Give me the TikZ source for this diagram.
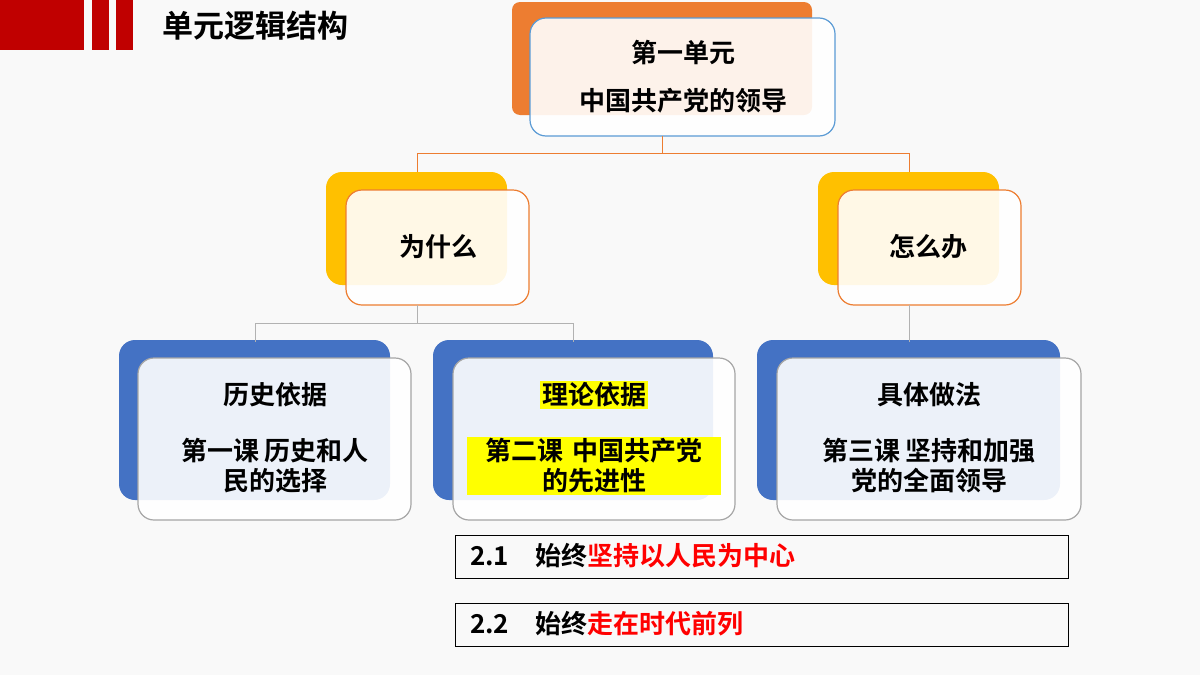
\documentclass[tikz,border=0pt]{standalone}
\usepackage{fontspec}
\setmainfont{Noto Sans CJK SC}[BoldFont={* Bold}]
\usetikzlibrary{positioning}
\definecolor{bg}{HTML}{F9F9F9}
\definecolor{barred}{HTML}{C00000}
\definecolor{orback}{HTML}{ED7D31}
\definecolor{yeback}{HTML}{FFC000}
\definecolor{blback}{HTML}{4472C4}
\definecolor{frblue}{HTML}{5B9BD5}
\definecolor{hl}{HTML}{FFFF00}
\definecolor{txred}{HTML}{FF0000}
\tikzset{
	back/.style={rounded corners=8pt,draw=none},
	front/.style={rounded corners=8pt,fill=white,fill opacity=0.9,line width=0.6pt},
	link/.style={line width=0.5pt},
	label/.style={font=\bfseries\fontsize{13}{15}\selectfont,align=center},
	line/.style={draw=black,line width=0.5pt,minimum width=306.5pt,minimum height=21.5pt,anchor=north west,inner sep=0pt}
}
\begin{document}
\begin{tikzpicture}[x=0.5pt,y=-0.5pt]
\fill[bg] (0,0) rectangle (1200,675);
\useasboundingbox (0,0) rectangle (1200,675);
% title bar
\fill[barred] (0,0) rectangle (84,50);
\fill[barred] (92,0) rectangle (109,50);
\fill[barred] (116,0) rectangle (133,50);
\node[font=\bfseries\fontsize{15.5}{17}\selectfont,anchor=west] (title) at (155,26) {单元逻辑结构};
% unit box
\fill[orback,rounded corners=4pt] (512,2) rectangle (812,115);
\draw[front,draw=frblue] (530,18) rectangle (835,136);
\node[label] (unit) at (683,77) {第一单元\\[9pt]中国共产党的领导};
\coordinate (unitb) at (662,136);
% why / how
\fill[back,yeback] (326,172) rectangle (507,285);
\draw[front,draw=orback] (346,190) rectangle (529,305);
\node[label] (why) at (438,247) {为什么};
\fill[back,yeback] (818,172) rectangle (999,285);
\draw[front,draw=orback] (838,190) rectangle (1021,305);
\node[label] (how) at (928,247) {怎么办};
\coordinate (whyt) at (417,190);
\coordinate (howt) at (909,190);
\draw[link,orback] (unitb) |- (417,153) -- (whyt |- 0,172);
\draw[link,orback] (unitb) |- (909,153) -- (howt |- 0,172);
% lessons
\fill[back,blback] (119,340) rectangle (390,500);
\draw[front,draw=gray!70] (138,358) rectangle (411,520);
\fill[back,blback] (433,340) rectangle (713,500);
\draw[front,draw=gray!70] (453,358) rectangle (735,520);
\fill[back,blback] (757,340) rectangle (1060,500);
\draw[front,draw=gray!70] (777,358) rectangle (1081,520);
\node[label] (l1) at (275,395) {历史依据};
\node[label] (l1b) at (275,466) {第一课\ 历史和人\\民的选择};
\node[label,fill=hl,inner sep=1pt] (l2) at (594,395) {理论依据};
\node[label,fill=hl,inner sep=1pt,text width=125pt] (l2b) at (594,466) {第二课\ 中国共产党\\的先进性};
\node[label] (l3) at (929,395) {具体做法};
\node[label] (l3b) at (929,466) {第三课\ 坚持和加强\\党的全面领导};
\draw[link,gray!60] (417,305) -- (417,323) -| (255,342);
\draw[link,gray!60] (417,323) -| (573,342);
\draw[link,gray!60] (909,305) -- (909,342);
% points
\node[line] (p1) at (455,535) {};
\node[label,anchor=west] (p1t) at (463,556) {2.1\quad 始终\textcolor{txred}{坚持以人民为中心}};
\node[line] (p2) at (455,603) {};
\node[label,anchor=west] (p2t) at (463,624) {2.2\quad 始终\textcolor{txred}{走在时代前列}};
\end{tikzpicture}
\end{document}
